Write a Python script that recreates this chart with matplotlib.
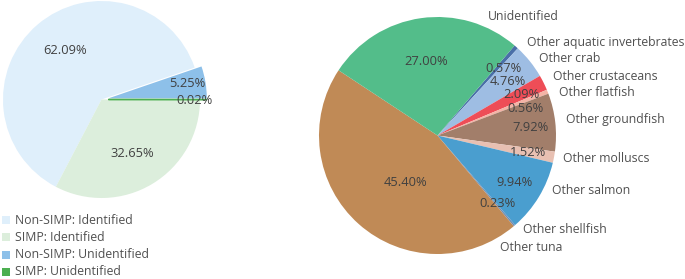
import matplotlib
matplotlib.use("Agg")
import matplotlib.pyplot as plt
import numpy as np
from matplotlib.patches import Rectangle

plt.rcParams['font.family'] = ['Open Sans', 'DejaVu Sans']

# ---------------- data ----------------
left_labels = ["Non-SIMP: Identified", "SIMP: Identified",
               "Non-SIMP: Unidentified", "SIMP: Unidentified"]
left_values = [62.09, 32.65, 5.25, 0.02]

right_labels = ["Other aquatic invertebrates", "Other crab", "Other crustaceans",
                "Other flatfish", "Other groundfish", "Other molluscs",
                "Other salmon", "Other shellfish", "Other tuna", "Unidentified"]
right_values = [0.57, 4.76, 2.09, 0.56, 7.92, 1.52, 9.94, 0.23, 45.40, 27.00]

# ---------------- styles / layout ----------------
left_colors = ["#DFEFFB", "#DCEEDC", "#8DC0E9", "#4CAF50"]
left_order = [2, 0, 1, 3]            # drawing order, counter-clockwise from 3 o'clock
left_explode = [0.0, 0.0, 0.07, 0.07]
left_pct_r = [0.62, 0.63, 0.82, 0.87]
left_pct_dang = [-4.0, -1.0, 1.5, -0.8]

right_colors = ["#4A6FA8", "#9EBDE3", "#EE4D57", "#F4B4A6", "#A27E6A",
                "#E8C0B2", "#4A9ECF", "#6E8FB8", "#C08A56", "#53BD8A"]
right_pct_r = [0.79, 0.75, 0.79, 0.78, 0.79, 0.78, 0.76, 0.76, 0.48, 0.63]
right_pct_dang = [-2.8, -1.6, -0.8, -4.6, -1.8, -0.3, 0.0, 0.9, 7.5, 1.0]
# category label anchor (left edge, vertical centre) in pie-radius units
right_cat_xy = [(0.755, 0.781), (0.857, 0.654), (0.975, 0.502), (1.025, 0.367),
                (1.084, 0.139), (1.059, -0.190), (0.966, -0.468), (0.722, -0.797),
                (0.527, -0.949), (0.426, 1.008)]

pct_color = "#404040"
cat_color = "#505050"
fs_pct = 9.3
fs_cat = 8.8

W, H = 685, 279
fig = plt.figure(figsize=(W / 100, H / 100), dpi=100)


def make_ax(cx, cy, R, k):
    ax = fig.add_axes([(cx - k * R) / W, (H - cy - k * R) / H, 2 * k * R / W, 2 * k * R / H])
    return ax


def fix_ax(ax, k):
    ax.set_aspect('auto')
    ax.set_xlim(-k, k)
    ax.set_ylim(-k, k)
    ax.axis('off')


# ---------------- left pie ----------------
kL = 1.02
axL = make_ax(101.5, 99.5, 98.5, kL)
vals = [left_values[i] for i in left_order]
cols = [left_colors[i] for i in left_order]
expl = [left_explode[i] for i in left_order]
wedges, _ = axL.pie(vals, colors=cols, explode=expl, startangle=0, counterclock=True,
                    radius=1.0, wedgeprops=dict(linewidth=0))
fix_ax(axL, kL)
for w, i in zip(wedges, left_order):
    w.set_clip_on(False)
    if left_values[i] < 0.5:
        w.set_edgecolor(left_colors[i])
        w.set_linewidth(1.0)
    mid = np.deg2rad((w.theta1 + w.theta2) / 2 + left_pct_dang[i])
    cx, cy = w.center
    r = left_pct_r[i]
    axL.text(cx + r * np.cos(mid), cy + r * np.sin(mid), f"{left_values[i]:.2f}%",
             ha='center', va='center', fontsize=fs_pct, color=pct_color, clip_on=False)

# legend
for j, (lab, col) in enumerate(zip(left_labels, left_colors)):
    yc = 220 + j * 17.3
    fig.patches.append(Rectangle((2 / W, (H - yc - 4) / H), 8 / W, 8 / H,
                                 transform=fig.transFigure, facecolor=col,
                                 edgecolor='none'))
    fig.text(15 / W, (H - yc) / H, lab, ha='left', va='center',
             fontsize=fs_cat, color=cat_color)

# ---------------- right pie ----------------
kR = 1.02
axR = make_ax(437.5, 135.5, 118.5, kR)
wedges, _ = axR.pie(right_values, colors=right_colors, startangle=49.4,
                    counterclock=False, radius=1.0, wedgeprops=dict(linewidth=0))
fix_ax(axR, kR)
for i, w in enumerate(wedges):
    w.set_clip_on(False)
    mid = np.deg2rad((w.theta1 + w.theta2) / 2 + right_pct_dang[i])
    r = right_pct_r[i]
    axR.text(r * np.cos(mid), r * np.sin(mid), f"{right_values[i]:.2f}%",
             ha='center', va='center', fontsize=fs_pct, color=pct_color, clip_on=False)
    lx, ly = right_cat_xy[i]
    axR.text(lx, ly, right_labels[i], ha='left', va='center', fontsize=fs_cat,
             color=cat_color, clip_on=False)

fig.savefig("out.png", dpi=100)
